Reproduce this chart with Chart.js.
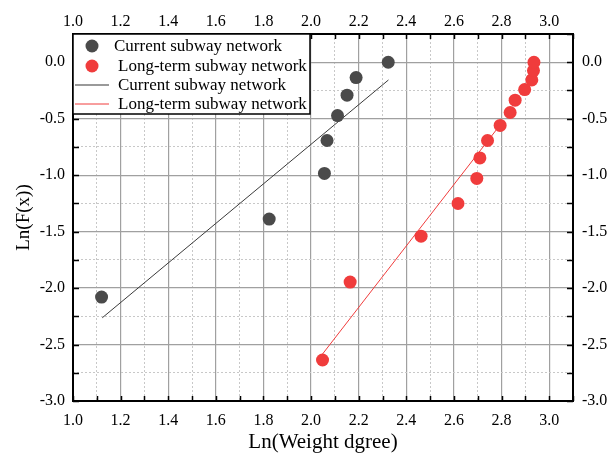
<!DOCTYPE html>
<html>
<head>
<meta charset="utf-8">
<script src="https://cdn.jsdelivr.net/npm/chart.js@4/dist/chart.umd.min.js"></script>
<style>
  body { margin: 0; background: #fff; }
  #wrap { width: 608px; height: 457px; }
</style>
</head>
<body>
<div id="wrap"><canvas id="chart" width="608" height="457"></canvas></div>
<script>
// points (ln weight degree, ln F(x))
const currentX = [1.12, 1.824, 2.056, 2.067, 2.111, 2.151, 2.189, 2.324];
const currentY = [-2.08, -1.389, -0.985, -0.693, -0.472, -0.292, -0.136, 0.0];

const longTermX = [2.048, 2.164, 2.462, 2.617, 2.696, 2.709, 2.741, 2.794, 2.836, 2.857, 2.897, 2.927, 2.934, 2.936];
const longTermY = [-2.637, -1.947, -1.54, -1.251, -1.029, -0.847, -0.693, -0.56, -0.445, -0.336, -0.242, -0.157, -0.074, 0.0];

// fitted lines, end points
const currentFitX = [1.123, 2.325];
const currentFitY = [-2.263, -0.157];
const longTermFitX = [2.048, 2.793];
const longTermFitY = [-2.584, -0.558];

const seriesLabels = ['Current subway network', 'Long-term subway network'];

const xMin = 1.0, xMax = 3.1, xStep = 0.1;
const yMin = -3.0, yMax = 0.25, yStep = 0.25;

const toPoints = (xs, ys) => xs.map((x, i) => ({ x: x, y: ys[i] }));

const FONT = "'Liberation Serif', 'Times New Roman', serif";
const darkGrey = '#4a4a4a';
const red = '#f03c3c';

const xLabel = v => {
    const n = Math.round(v * 10);
    return n % 2 === 0 && n <= 30 ? (n / 10).toFixed(1) : '';
};
const yLabel = v => {
    const n = Math.round(v * 100);
    if (n % 50 !== 0) return '';
    return n === 0 ? '0.0' : (n / 100).toFixed(1);
};
const isMajorX = v => Math.round(v * 10) % 2 === 0;
const isMajorY = v => Math.round(v * 100) % 50 === 0;

// frame, inward ticks, axis titles, legend
const framePlugin = {
    id: 'frame',
    afterDraw(chart) {
        const ctx = chart.ctx;
        const a = chart.chartArea;
        const xs = chart.scales.xMinor;
        const ys = chart.scales.yMinor;
        ctx.save();

        // tick marks pointing into the plot
        ctx.strokeStyle = '#000';
        ctx.lineWidth = 1.5;
        ctx.beginPath();
        xs.ticks.forEach(t => {
            const px = Math.round(xs.getPixelForValue(t.value)) + 0.5;
            ctx.moveTo(px, a.bottom); ctx.lineTo(px, a.bottom - 5);
            ctx.moveTo(px, a.top); ctx.lineTo(px, a.top + 5);
        });
        ys.ticks.forEach(t => {
            const py = Math.round(ys.getPixelForValue(t.value)) + 0.5;
            ctx.moveTo(a.left, py); ctx.lineTo(a.left + 6, py);
            ctx.moveTo(a.right, py); ctx.lineTo(a.right - 6, py);
        });
        ctx.stroke();

        // frame
        ctx.lineWidth = 2;
        ctx.strokeRect(a.left, a.top, a.right - a.left, a.bottom - a.top);

        // axis titles
        ctx.fillStyle = '#000';
        ctx.textAlign = 'center';
        ctx.textBaseline = 'middle';
        ctx.font = '21px ' + FONT;
        ctx.fillText('Ln(Weight dgree)', (a.left + a.right) / 2, 442);
        ctx.save();
        ctx.translate(24, (a.top + a.bottom) / 2);
        ctx.rotate(-Math.PI / 2);
        ctx.font = '19px ' + FONT;
        ctx.fillText('Ln(F(x))', 0, 0);
        ctx.restore();

        // legend box
        const box = { left: a.left, top: a.top, right: 310, bottom: 114 };
        ctx.fillStyle = '#fff';
        ctx.fillRect(box.left, box.top, box.right - box.left, box.bottom - box.top);
        ctx.strokeStyle = '#000';
        ctx.lineWidth = 1.5;
        ctx.strokeRect(box.left, box.top, box.right - box.left, box.bottom - box.top);

        const rowY = [46, 66, 85, 104];
        const textX = [114, 118, 118, 118];
        ctx.font = '17px ' + FONT;
        ctx.textAlign = 'left';
        chart.data.datasets.forEach((ds, i) => {
            const y = rowY[i];
            if (ds.showLine) {
                ctx.strokeStyle = ds.legendColor;
                ctx.lineWidth = ds.legendWidth;
                ctx.beginPath();
                ctx.moveTo(75, y); ctx.lineTo(109, y);
                ctx.stroke();
            } else {
                ctx.fillStyle = ds.backgroundColor;
                ctx.beginPath();
                ctx.arc(92, y, 6.5, 0, Math.PI * 2);
                ctx.fill();
            }
            ctx.fillStyle = '#000';
            ctx.fillText(ds.label, textX[i], y + 1);
        });
        ctx.restore();
    }
};

const tickFont = { family: FONT, size: 16 };

new Chart(document.getElementById('chart'), {
    type: 'scatter',
    data: {
        datasets: [
            {
                label: seriesLabels[0],
                data: toPoints(currentX, currentY),
                backgroundColor: darkGrey,
                borderColor: darkGrey,
                pointRadius: 6.5,
                borderWidth: 0
            },
            {
                label: seriesLabels[1],
                data: toPoints(longTermX, longTermY),
                backgroundColor: red,
                borderColor: red,
                pointRadius: 6.5,
                borderWidth: 0
            },
            {
                label: seriesLabels[0],
                data: toPoints(currentFitX, currentFitY),
                showLine: true,
                borderColor: '#3a3a3a',
                borderWidth: 1,
                pointRadius: 0,
                legendColor: '#9a9a9a',
                legendWidth: 2
            },
            {
                label: seriesLabels[1],
                data: toPoints(longTermFitX, longTermFitY),
                showLine: true,
                borderColor: '#f03c3c',
                borderWidth: 1,
                pointRadius: 0,
                legendColor: '#f03c3c',
                legendWidth: 1
            }
        ]
    },
    options: {
        responsive: false,
        animation: false,
        layout: { padding: 0 },
        plugins: {
            legend: { display: false },
            tooltip: { enabled: false }
        },
        scales: {
            x: {
                type: 'linear', position: 'bottom',
                min: xMin, max: xMax,
                afterFit: s => { s.height = 56; },
                ticks: { stepSize: xStep, autoSkip: false, maxRotation: 0, padding: 10,
                         color: '#000', font: tickFont, callback: xLabel },
                grid: { drawTicks: false,
                        color: c => isMajorX(c.tick.value) ? '#a0a0a0' : 'rgba(0,0,0,0)',
                        lineWidth: 1.2 },
                border: { display: false }
            },
            xTop: {
                type: 'linear', position: 'top',
                min: xMin, max: xMax,
                afterFit: s => { s.height = 34; },
                ticks: { stepSize: xStep, autoSkip: false, maxRotation: 0, padding: 3,
                         color: '#000', font: tickFont, callback: xLabel },
                grid: { display: false, drawTicks: false },
                border: { display: false }
            },
            xMinor: {
                type: 'linear', position: 'bottom',
                min: xMin, max: xMax,
                afterFit: s => { s.height = 0; },
                ticks: { stepSize: xStep, display: false },
                grid: { drawTicks: false,
                        color: c => isMajorX(c.tick.value) ? 'rgba(0,0,0,0)' : '#c8c8c8',
                        lineWidth: 1 },
                border: { display: false, dash: [2, 2] }
            },
            y: {
                type: 'linear', position: 'left',
                min: yMin, max: yMax,
                afterFit: s => { s.width = 73; },
                ticks: { stepSize: yStep, autoSkip: false, padding: 8,
                         color: '#000', font: tickFont, callback: yLabel },
                grid: { drawTicks: false,
                        color: c => isMajorY(c.tick.value) ? '#a0a0a0' : 'rgba(0,0,0,0)',
                        lineWidth: 1.2 },
                border: { display: false }
            },
            yRight: {
                type: 'linear', position: 'right',
                min: yMin, max: yMax,
                afterFit: s => { s.width = 35; },
                ticks: { stepSize: yStep, autoSkip: false, padding: 9,
                         color: '#000', font: tickFont, callback: yLabel },
                grid: { display: false, drawTicks: false },
                border: { display: false }
            },
            yMinor: {
                type: 'linear', position: 'left',
                min: yMin, max: yMax,
                afterFit: s => { s.width = 0; },
                ticks: { stepSize: yStep, display: false },
                grid: { drawTicks: false,
                        color: c => isMajorY(c.tick.value) ? 'rgba(0,0,0,0)' : '#c8c8c8',
                        lineWidth: 1 },
                border: { display: false, dash: [2, 2] }
            }
        }
    },
    plugins: [framePlugin]
});
</script>
</body>
</html>
